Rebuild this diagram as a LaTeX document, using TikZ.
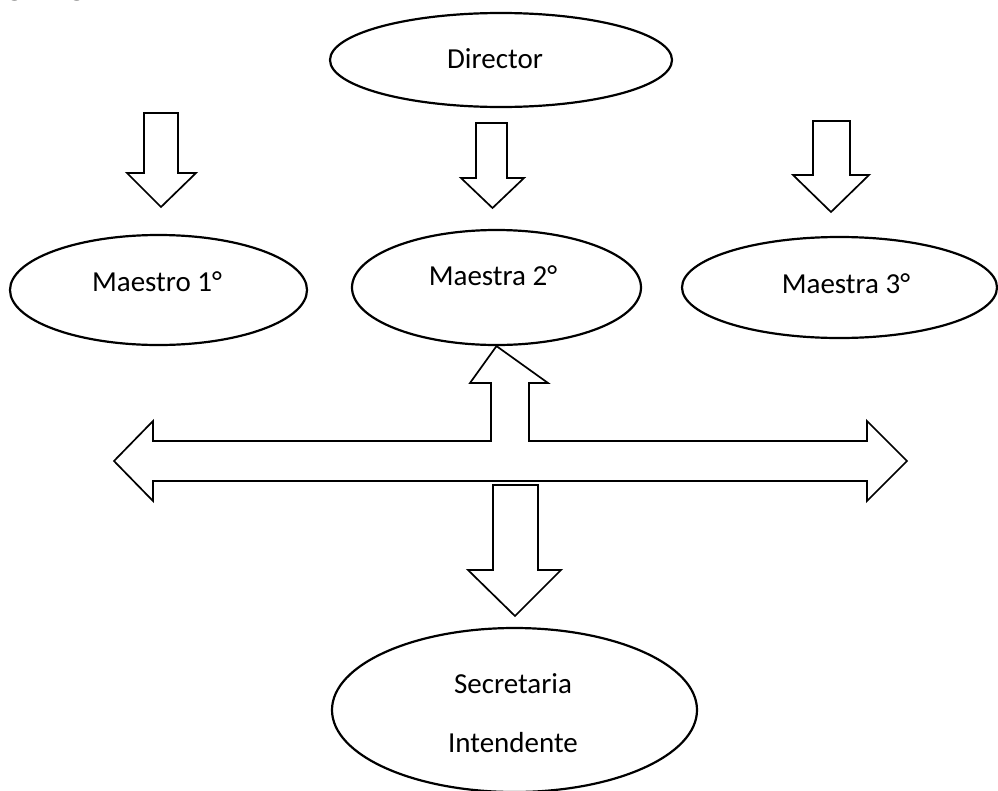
\documentclass[tikz,border=0pt]{standalone}
\usepackage{fontspec}
\setmainfont{Carlito}
\usetikzlibrary{shapes.geometric}
\begin{document}
\begin{tikzpicture}[x=1pt,y=-1pt,
  oval/.style={ellipse,draw,line width=2.2pt,inner sep=0pt},
  lbl/.style={anchor=base,inner sep=0pt,font=\fontsize{29}{35}\selectfont},
  blockarrow/.style={draw,line width=1.7pt,line join=miter,fill=white}]
\useasboundingbox (0,0) rectangle (998,790);
% heading fragment cut by the top edge
\node[anchor=base west,inner sep=0pt,font=\fontsize{37}{44}\selectfont] (head) at (-31,-5.5) {Organigrama};
% ovals
\node[oval,minimum width=342pt,minimum height=94pt] (dir) at (501,60) {};
\node[oval,minimum width=297pt,minimum height=110pt] (m1) at (158.5,290) {};
\node[oval,minimum width=289pt,minimum height=115pt] (m2) at (496.5,287.5) {};
\node[oval,minimum width=315pt,minimum height=101pt] (m3) at (839.5,287.5) {};
\node[oval,minimum width=365pt,minimum height=164pt] (sec) at (514.5,710) {};
% texts
\node[lbl] (dirT) at (495,68) {Director};
\node[lbl] (m1T) at (157,291) {Maestro 1°};
\node[lbl] (m2T) at (493,285) {Maestra 2°};
\node[lbl] (m3T) at (846,293) {Maestra 3°};
\node[lbl] (secT) at (513,693) {Secretaria};
\node[lbl] (intT) at (513,752) {Intendente};
% block arrows
\draw[blockarrow] (144,113) -- (178,113) -- (178,173) -- (196,173) -- (161,207) -- (127,173) -- (144,173) -- cycle;
\draw[blockarrow] (476,123) -- (507,123) -- (507,178) -- (524,178) -- (492.5,208) -- (461,178) -- (476,178) -- cycle;
\draw[blockarrow] (813,121) -- (850,121) -- (850,175) -- (869,175) -- (831,212) -- (793,175) -- (813,175) -- cycle;
\draw[blockarrow] (153,441) -- (491,441) -- (491,383) -- (470,383) -- (m2.south) -- (548,383) -- (529,383) -- (529,441)
  -- (867,441) -- (867,421) -- (907,461) -- (867,501) -- (867,481) -- (153,481) -- (153,501) -- (114,461) -- (153,421) -- cycle;
\draw[blockarrow] (493,485) -- (538,485) -- (538,570) -- (561,570) -- (515,616) -- (468,570) -- (493,570) -- cycle;
\end{tikzpicture}
\end{document}
